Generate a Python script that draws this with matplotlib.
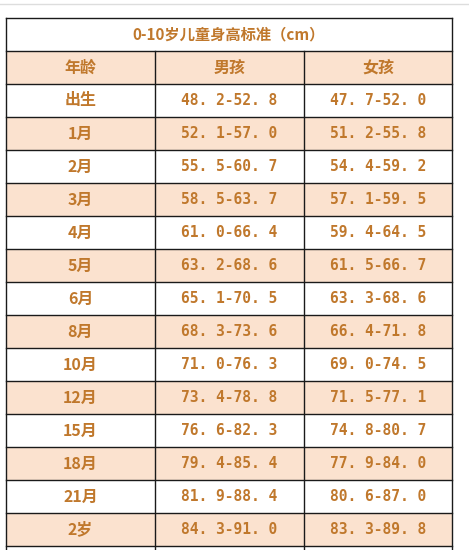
import matplotlib

matplotlib.use("Agg")

import matplotlib.pyplot as plt
from matplotlib.patches import Rectangle

TITLE = "0-10岁儿童身高标准（cm）"
HEADERS = ["年龄", "男孩", "女孩"]
AGES = ["出生", "1月", "2月", "3月", "4月", "5月", "6月", "8月",
        "10月", "12月", "15月", "18月", "21月", "2岁"]
BOYS = ["48.2-52.8", "52.1-57.0", "55.5-60.7", "58.5-63.7", "61.0-66.4",
        "63.2-68.6", "65.1-70.5", "68.3-73.6", "71.0-76.3", "73.4-78.8",
        "76.6-82.3", "79.4-85.4", "81.9-88.4", "84.3-91.0"]
GIRLS = ["47.7-52.0", "51.2-55.8", "54.4-59.2", "57.1-59.5", "59.4-64.5",
         "61.5-66.7", "63.3-68.6", "66.4-71.8", "69.0-74.5", "71.5-77.1",
         "74.8-80.7", "77.9-84.0", "80.6-87.0", "83.3-89.8"]

TEXT = "#c0782c"
PEACH = "#fbe2cf"
LINE = "#1a1a1a"
CJK = ["Noto Sans CJK SC", "DejaVu Sans"]
MONO = ["DejaVu Sans Mono", "Noto Sans CJK SC"]

fig = plt.figure(figsize=(4.69, 5.5), dpi=100)
ax = fig.add_axes([0, 0, 1, 1])
ax.set_xlim(0, 469)
ax.set_ylim(550, 0)
ax.axis("off")

ax.axhline(4, color="#dddddd", lw=1)

left, right = 6, 452
cols = [6, 155, 304, 452]
top, rh = 18, 33
n_rows = 2 + len(AGES)

# fills
for i in range(n_rows + 1):
    y = top + i * rh
    if i >= 1 and i % 2 == 1:
        ax.add_patch(Rectangle((left, y), right - left, rh, color=PEACH, lw=0))

ax.text((left + right) / 2, top + rh / 2, TITLE, ha="center", va="center",
        color=TEXT, fontsize=11, family=CJK, fontweight="semibold")
for j, h in enumerate(HEADERS):
    ax.text((cols[j] + cols[j + 1]) / 2, top + rh * 1.5, h, ha="center",
            va="center", color=TEXT, fontsize=11.5, family=CJK, fontweight="semibold")
for i, (a, b, g) in enumerate(zip(AGES, BOYS, GIRLS)):
    yc = top + rh * (i + 2.5)
    ax.text((cols[0] + cols[1]) / 2, yc, a, ha="center", va="center",
            color=TEXT, fontsize=11.5, family=CJK, fontweight="semibold")
    for j, v in ((1, b), (2, g)):
        ax.text((cols[j] + cols[j + 1]) / 2, yc, v.replace(".", ". "), ha="center",
                va="center", color=TEXT, fontsize=10.5, family=MONO, fontweight="bold")

# grid lines
bottom = 560
for i in range(n_rows + 1):
    ax.plot([left, right], [top + i * rh] * 2, color=LINE, lw=1)
ax.plot([left, left], [top, bottom], color=LINE, lw=1)
ax.plot([right, right], [top, bottom], color=LINE, lw=1)
for x in cols[1:3]:
    ax.plot([x, x], [top + rh, bottom], color=LINE, lw=1)

fig.savefig("out.png", dpi=100, facecolor="white")
